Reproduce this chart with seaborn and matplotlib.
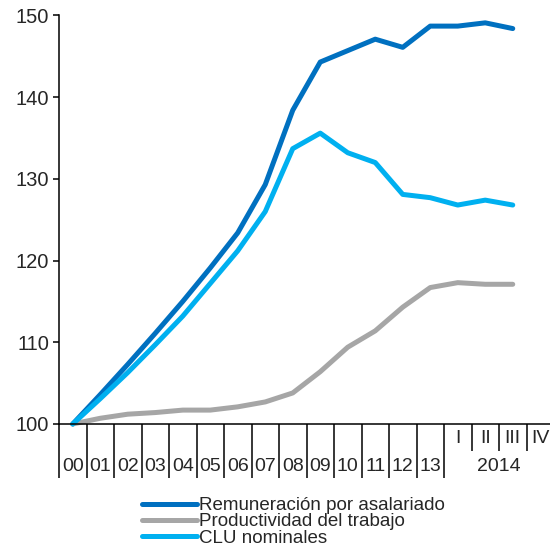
import matplotlib
matplotlib.use("Agg")
import matplotlib.pyplot as plt
import matplotlib.transforms as mtransforms
import numpy as np
import pandas as pd
import seaborn as sns

# ---- data ----
categories = ['00', '01', '02', '03', '04', '05', '06', '07', '08', '09',
              '10', '11', '12', '13', 'I', 'II', 'III', 'IV']
year_label_2014 = '2014'
series_names = ['Remuneración por asalariado', 'Productividad del trabajo', 'CLU nominales']
remuneracion = [100, 103.6, 107.3, 111.1, 115.0, 119.1, 123.4, 129.3, 138.4, 144.3,
                145.7, 147.1, 146.1, 148.7, 148.7, 149.1, 148.4]
productividad = [100, 100.7, 101.2, 101.4, 101.7, 101.7, 102.1, 102.7, 103.8, 106.4,
                 109.4, 111.4, 114.3, 116.7, 117.3, 117.1, 117.1]
clu = [100, 103.1, 106.3, 109.7, 113.2, 117.2, 121.2, 126.0, 133.7, 135.6,
       133.2, 132.0, 128.1, 127.7, 126.8, 127.4, 126.8]
yticks = [100, 110, 120, 130, 140, 150]
colors = ['#0070C0', '#A6A6A6', '#00B0F0']

# ---- long table ----
rows = []
for name, vals in zip(series_names, [remuneracion, productividad, clu]):
    for i, v in enumerate(vals):
        rows.append({'pos': i, 'valor': v, 'serie': name})
df = pd.DataFrame(rows)

sns.set_style("white")
plt.rcParams['font.family'] = ['Liberation Sans', 'DejaVu Sans']

fig = plt.figure(figsize=(5.5, 5.51), dpi=100)
ax = fig.add_axes([59/550, 0.2305, (554-59)/550, 0.7414])

sns.lineplot(data=df, x='pos', y='valor', hue='serie', hue_order=series_names,
             palette=colors, linewidth=3.6, ax=ax, legend=True, clip_on=False,
             solid_capstyle='round', solid_joinstyle='round')

for line in ax.lines:
    line.set_clip_on(False)

ax.set_ylim(100, 150)
ax.set_xlim(-0.5, len(categories) - 0.5)
ax.set_xlabel('')
ax.set_ylabel('')

for s in ['top', 'right']:
    ax.spines[s].set_visible(False)
ax.spines['left'].set_color('black')
ax.spines['bottom'].set_color('black')
ax.spines['left'].set_linewidth(1.1)
ax.spines['bottom'].set_linewidth(1.1)

ax.set_yticks(yticks)
ax.tick_params(axis='y', direction='out', length=4.5, width=1.1, color='black',
               labelsize=14.5, pad=2.5, left=True)

# x ticks: category boundaries
n_years = categories.index('I')
bounds = np.arange(len(categories)) - 0.5
major_b = bounds[:n_years + 1]
minor_b = bounds[n_years + 1:]
ax.set_xticks(major_b)
ax.set_xticks(minor_b, minor=True)
ax.set_xticklabels([])
ax.tick_params(axis='x', which='major', direction='out', length=39, width=1.1,
               color='black', bottom=True)
ax.tick_params(axis='x', which='minor', direction='out', length=19.5, width=1.1,
               color='black', bottom=True)

trans = mtransforms.blended_transform_factory(ax.transData, ax.transAxes)
ax_h_px = 0.7414 * 551
for i, c in enumerate(categories):
    if i < n_years:
        ax.text(i, -42.5/ax_h_px, c, transform=trans, ha='center', va='center', fontsize=14)
    else:
        ax.text(i, -14.5/ax_h_px, c, transform=trans, ha='center', va='center', fontsize=14)
ax.text(n_years + (len(categories) - n_years - 1) / 2, -42.5/ax_h_px, year_label_2014,
        transform=trans, ha='center', va='center', fontsize=14)

# legend
leg = ax.legend(loc='upper left', bbox_to_anchor=(142/550, 1 - 497/551),
                bbox_transform=fig.transFigure, frameon=False, fontsize=13.5,
                handlelength=2.95, handletextpad=0.1, labelspacing=-0.04,
                borderpad=0, borderaxespad=0)
for h in leg.get_lines():
    h.set_linewidth(3.6)

fig.savefig('out.png', dpi=100)
